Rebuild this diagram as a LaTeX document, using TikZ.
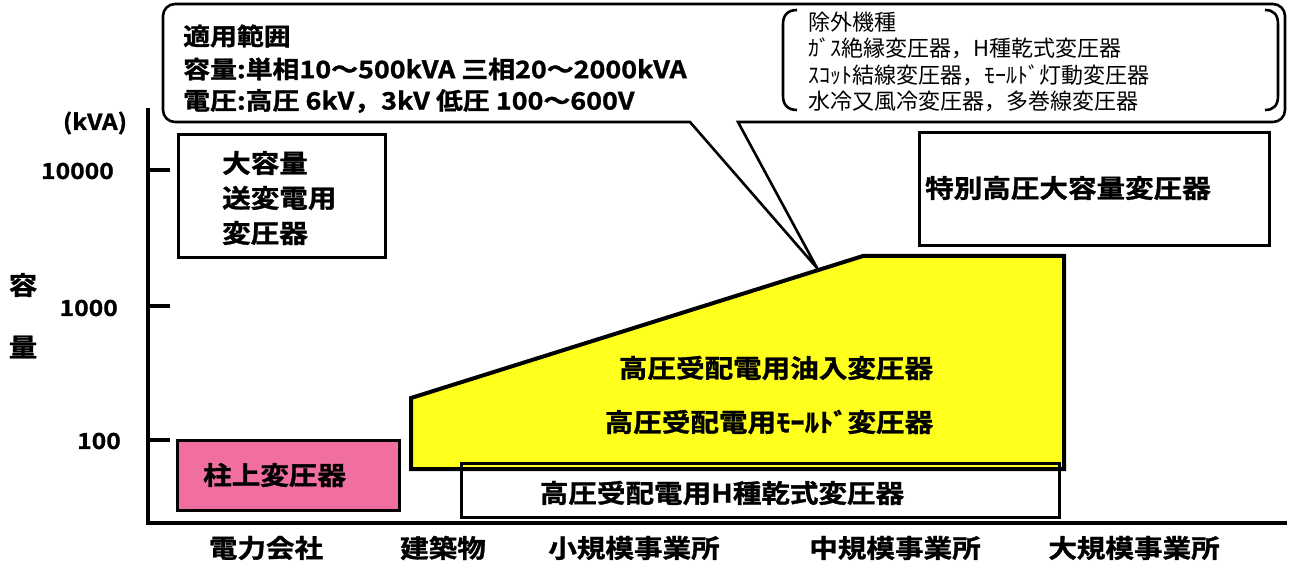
\documentclass[tikz,border=0pt]{standalone}
\usepackage{fontspec}
\setmainfont{Noto Sans CJK JP}
\newfontfamily\jb{Noto Sans CJK JP}[UprightFont=* Bold, FakeStretch=1.12, FakeBold=1.2]
\newfontfamily\jr{Noto Sans CJK JP}
\definecolor{pinkfill}{RGB}{240,110,160}
\definecolor{yellowfill}{RGB}{255,255,30}
\begin{document}
\begin{tikzpicture}[x=1pt,y=-1pt,
  big/.style={font=\jb\fontsize{25.5}{27}\selectfont, inner sep=0pt},
  head/.style={font=\jb\fontsize{24}{26}\selectfont, inner sep=0pt},
  small/.style={font=\jr\fontsize{22}{24}\selectfont, inner sep=0pt},
  tick/.style={font=\jb\fontsize{22}{24}\selectfont, inner sep=0pt},
  boxline/.style={draw=black, line width=3.4pt},
  thin/.style={draw=black, line width=2.6pt},
  axis/.style={draw=black, line width=3.2pt}]
\useasboundingbox (0,0) rectangle (1293,561);

% callout
\draw[thin, fill=white] (738,122) [rounded corners=12pt] -- (1285,122) -- (1285,4) -- (163,4) -- (163,122) -- (400,122) [sharp corners] -- (690,122) -- (817,268) -- cycle;
\node[head, anchor=west] (h1) at (183,36) {適用範囲};
\node[head, anchor=west] (h2) at (183,69) {容量:単相10～500kVA 三相20～2000kVA};
\node[head, anchor=west] (h3) at (183,101) {電圧:高圧 6kV，3kV 低圧 100～600V};

% bracket
\draw[thin] (797,10) .. controls (788,10) and (783,15) .. (783,24) -- (783,96) .. controls (783,105) and (788,110) .. (797,110);
\draw[thin] (1265,10) .. controls (1274,10) and (1278,15) .. (1278,24) -- (1278,96) .. controls (1278,105) and (1274,110) .. (1265,110);
\node[small, anchor=west] (e1) at (808,22) {除外機種};
\node[small, anchor=west] (e2) at (808,48) {ｶﾞｽ絶縁変圧器，H種乾式変圧器};
\node[small, anchor=west] (e3) at (808,75) {ｽｺｯﾄ結線変圧器，ﾓｰﾙﾄﾞ灯動変圧器};
\node[small, anchor=west] (e4) at (808,101) {水冷又風冷変圧器，多巻線変圧器};

% axes
\coordinate (o) at (148,523);
\coordinate (ytop) at (148,108);
\coordinate (xend) at (1287,523);
\draw[axis] (ytop) -- (o) -- (xend);
\draw[axis] (148,170) -- (170,170);
\draw[axis] (148,306) -- (170,306);
\draw[axis] (148,440) -- (170,440);
\node[tick] (unit) at (95,123) {(kVA)};
\node[tick, anchor=east] (t4) at (114,171) {10000};
\node[tick, anchor=east] (t3) at (118,308) {1000};
\node[tick, anchor=east] (t2) at (121,441) {100};
\node[big] (ya) at (23,285) {容};
\node[big] (yb) at (23,347) {量};

% boxes
\node[boxline, anchor=north west, minimum width=207pt, minimum height=123pt] (bigbox) at (177,133) {};
\node[big, anchor=west] (bb1) at (222,163) {大容量};
\node[big, anchor=west] (bb2) at (222,198) {送変電用};
\node[big, anchor=west] (bb3) at (222,233) {変圧器};

\node[boxline, fill=pinkfill, anchor=north west, minimum width=222pt, minimum height=70pt] (pink) at (176,439) {};
\node[big, anchor=west] (pinkt) at (203,475) {柱上変圧器};

\node[boxline, anchor=north west, minimum width=350pt, minimum height=113pt] (tok) at (918,131) {};
\node[big, anchor=west] (tokt) at (925,188) {特別高圧大容量変圧器};

\draw[boxline, line width=4pt, fill=yellowfill] (411,398) -- (863,256) -- (1064,256) -- (1064,469) -- (411,469) -- cycle;
\node[thin, anchor=north west, minimum width=598pt, minimum height=54pt] (hbox) at (460,462) {};
\node[big] (y1) at (776,368) {高圧受配電用油入変圧器};
\node[big] (y2) at (769,422) {高圧受配電用ﾓｰﾙﾄﾞ変圧器};
\node[big] (ht) at (722,493) {高圧受配電用H種乾式変圧器};

% x labels
\node[big] (x1) at (266,548) {電力会社};
\node[big] (x2) at (443,548) {建築物};
\node[big] (x3) at (634,548) {小規模事業所};
\node[big] (x4) at (895,548) {中規模事業所};
\node[big] (x5) at (1134,548) {大規模事業所};
\end{tikzpicture}
\end{document}
